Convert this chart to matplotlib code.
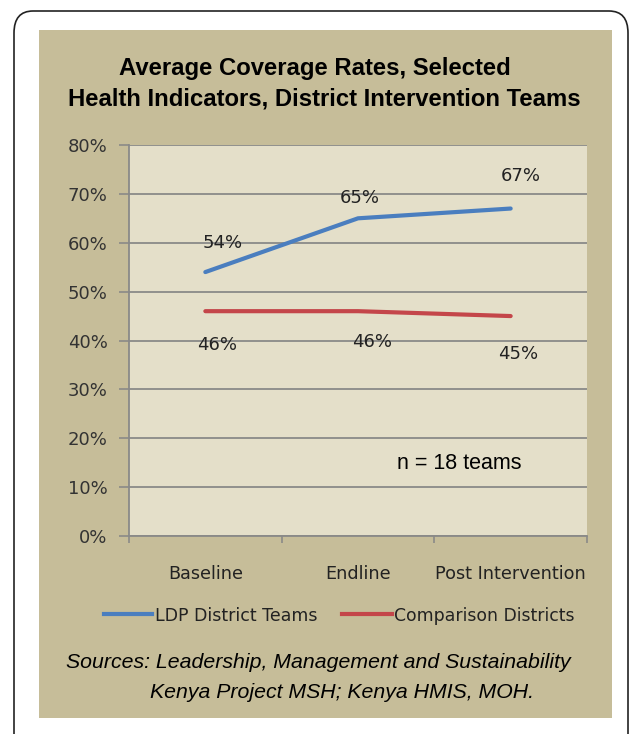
import numpy as np
import matplotlib.pyplot as plt
from matplotlib.patches import FancyBboxPatch, Rectangle

categories = ['Baseline', 'Endline', 'Post Intervention']
ldp = [54, 65, 67]
comparison = [46, 46, 45]
ldp_labels = ['54%', '65%', '67%']
comp_labels = ['46%', '46%', '45%']
yticks = [0, 10, 20, 30, 40, 50, 60, 70, 80]

W, H = 633, 734
panel_col = '#c6bd99'
plot_col = '#e4dfc9'
grid_col = '#8a8a88'
blue = '#4a7ebf'
red = '#c4464a'

# label offsets in pixels from the data point
ldp_off = [(17, 29), (2, 20), (10, 33)]
comp_off = [(12, -34), (14, -31), (7, -38)]

fig = plt.figure(figsize=(W / 100, H / 100), dpi=100)
fig.patch.set_facecolor('white')

def fx(px):
    return px / W

def fy(py):
    return 1 - py / H

# ---- outer frame + tan panel ----
frame = FancyBboxPatch((fx(14), fy(760)), fx(628 - 14), (760 - 11) / H,
                       boxstyle='round,pad=0,rounding_size=0.03',
                       transform=fig.transFigure, facecolor='white',
                       edgecolor='#222222', lw=1.2, clip_on=False, zorder=-2)
fig.patches.append(frame)
panel = Rectangle((fx(39), fy(718)), fx(612 - 39), (718 - 30) / H,
                  transform=fig.transFigure, facecolor=panel_col,
                  edgecolor='none', zorder=-1)
fig.patches.append(panel)

# ---- title ----
fig.text(fx(315), fy(68), 'Average Coverage Rates, Selected',
         ha='center', va='center', fontsize=17.2, fontweight='bold',
         family='Liberation Sans', color='black')
fig.text(fx(324), fy(99), 'Health Indicators, District Intervention Teams',
         ha='center', va='center', fontsize=17.2, fontweight='bold',
         family='Liberation Sans', color='black')

# ---- plot area ----
ax = fig.add_axes([fx(129), fy(536), fx(587 - 129), (536 - 145) / H])
ax.set_facecolor(plot_col)
x = np.arange(len(categories))
ax.plot(x, ldp, color=blue, lw=3.0, solid_capstyle='round', zorder=3)
ax.plot(x, comparison, color=red, lw=3.0, solid_capstyle='round', zorder=3)

for xi, v, lab, off in zip(x, ldp, ldp_labels, ldp_off):
    ax.annotate(lab, (xi, v), xytext=off, textcoords='offset pixels',
                ha='center', va='center', fontsize=13, color='#222222',
                family='DejaVu Sans')
for xi, v, lab, off in zip(x, comparison, comp_labels, comp_off):
    ax.annotate(lab, (xi, v), xytext=off, textcoords='offset pixels',
                ha='center', va='center', fontsize=13, color='#222222',
                family='DejaVu Sans')

ax.text(1.66, 14.9, 'n = 18 teams', ha='center', va='center', fontsize=15.5,
        family='Liberation Sans', color='black')

ax.set_xlim(-0.5, 2.5)
ax.set_ylim(0, 80)
ax.set_yticks(yticks)
ax.set_yticklabels([f'{t}%' for t in yticks], family='DejaVu Sans',
                   fontsize=13, color='#333333')
ax.yaxis.grid(True, color=grid_col, lw=1.3)
ax.set_axisbelow(True)
ax.set_xticks([-0.5, 0.5, 1.5, 2.5])
ax.set_xticklabels([])
ax.set_xticks(x, minor=True)
ax.set_xticklabels(categories, minor=True, family='DejaVu Sans',
                   fontsize=12.7, color='#222222')
ax.tick_params(axis='x', which='minor', length=0, pad=21)
ax.tick_params(axis='x', which='major', length=5, color=grid_col, width=1.2)
ax.tick_params(axis='y', length=7, color=grid_col, width=1.2, pad=8.5)
for s in ['top', 'right']:
    ax.spines[s].set_visible(False)
for s in ['left', 'bottom']:
    ax.spines[s].set_color(grid_col)
    ax.spines[s].set_linewidth(1.3)

# ---- legend ----
fig.lines.append(plt.Line2D([fx(104), fx(152)], [fy(614), fy(614)],
                            transform=fig.transFigure, color=blue, lw=3.0))
fig.text(fx(155), fy(614), 'LDP District Teams', ha='left', va='center_baseline',
         fontsize=12.5, family='DejaVu Sans', color='#222222')
fig.lines.append(plt.Line2D([fx(342), fx(392)], [fy(614), fy(614)],
                            transform=fig.transFigure, color=red, lw=3.0))
fig.text(fx(394), fy(614), 'Comparison Districts', ha='left', va='center_baseline',
         fontsize=12.4, family='DejaVu Sans', color='#222222')

# ---- sources ----
fig.text(fx(66), fy(662), 'Sources: Leadership, Management and Sustainability',
         ha='left', va='center', fontsize=15.3, style='italic',
         family='Liberation Sans', color='black')
fig.text(fx(150), fy(692), 'Kenya Project MSH; Kenya HMIS, MOH.',
         ha='left', va='center', fontsize=15.3, style='italic',
         family='Liberation Sans', color='black')

fig.savefig('out.png', dpi=100, facecolor=fig.get_facecolor())
